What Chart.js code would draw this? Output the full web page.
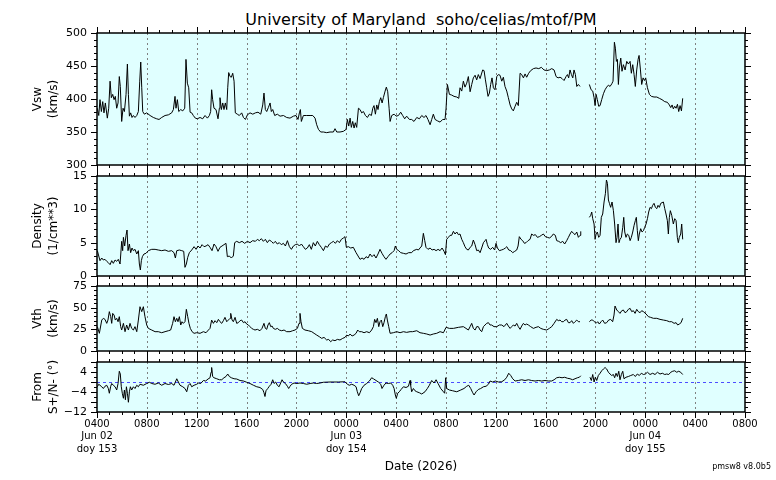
<!DOCTYPE html>
<html lang="en">
<head>
<meta charset="UTF-8">
<title>soho/celias/mtof/PM</title>
<script src="https://cdn.jsdelivr.net/npm/chart.js"></script>
<style>
    body { margin: 0; background: #fff; font-family: "DejaVu Sans", sans-serif; color: #000; }
    #wrap { position: relative; width: 776px; height: 480px; overflow: hidden; }
    #wrap canvas { position: absolute; left: 0; top: 0; }
    .title { position: absolute; left: 97px; width: 648px; top: 10px; line-height: 19px; text-align: center; font-size: 16px; white-space: pre; }
    .xlabel { position: absolute; left: 97px; width: 648px; top: 459px; line-height: 14px; text-align: center; font-size: 12px; }
    .version { position: absolute; right: 5px; top: 462px; line-height: 10px; font-size: 8px; }
</style>
</head>
<body>
<div id="wrap">
    <div class="title">University of Maryland  soho/celias/mtof/PM</div>
    <canvas id="vswChart" width="776" height="480"></canvas>
    <canvas id="denChart" width="776" height="480"></canvas>
    <canvas id="vthChart" width="776" height="480"></canvas>
    <canvas id="angChart" width="776" height="480"></canvas>
    <div class="xlabel">Date (2026)</div>
    <div class="version">pmsw8 v8.0b5</div>
</div>

<script>
    // time axis: hours since Jun 02 00:00
    const tickHours = [4, 8, 12, 16, 20, 24, 28, 32, 36, 40, 44, 48, 52, 56];
    const tickLabels = ['0400', '0800', '1200', '1600', '2000', '0000', '0400', '0800', '1200', '1600', '2000', '0000', '0400', '0800'];
    const dayRows = { 4: ['Jun 02', 'doy 153'], 24: ['Jun 03', 'doy 154'], 48: ['Jun 04', 'doy 155'] };

    // solar wind speed (km/s)
    const vswHours = [
        4.03,4.14,4.24,4.35,4.46,4.56,4.67,4.83,4.94,5.05,
        5.15,5.26,5.37,5.47,5.58,5.69,5.79,5.87,5.98,6.09,
        6.20,6.33,6.44,6.52,6.60,6.70,6.81,6.92,7.05,7.19,
        7.32,7.43,7.51,7.59,7.67,7.80,7.99,8.26,8.52,8.79,
        8.98,9.19,9.46,9.73,9.99,10.13,10.26,10.34,10.45,10.56,
        10.72,10.88,11.04,11.14,11.25,11.36,11.47,11.60,11.73,11.89,
        12.05,12.27,12.48,12.67,12.86,13.02,13.12,13.20,13.28,13.39,
        13.55,13.71,13.82,13.87,13.98,14.09,14.19,14.30,14.41,14.49,
        14.57,14.68,14.78,14.89,15.00,15.10,15.26,15.42,15.61,15.75,
        15.91,16.07,16.28,16.50,16.71,16.92,17.14,17.30,17.40,17.51,
        17.62,17.75,17.89,17.99,18.10,18.26,18.47,18.69,18.96,19.22,
        19.49,19.76,19.97,20.13,20.24,20.32,20.40,20.56,20.83,21.10,
        21.31,21.50,21.63,21.77,21.95,22.17,22.43,22.70,22.97,23.10,
        23.24,23.50,23.77,23.99,24.09,24.20,24.31,24.41,24.52,24.63,
        24.73,24.84,24.98,25.11,25.24,25.38,25.54,25.70,25.86,26.02,
        26.13,26.23,26.34,26.45,26.55,26.66,26.77,26.88,26.98,27.12,
        27.22,27.33,27.44,27.52,27.65,27.84,28.00,28.19,28.37,28.53,
        28.69,28.85,29.07,
        29.25,29.44,29.66,29.87,30.06,30.24,30.40,30.56,30.73,30.86,
        30.99,31.13,31.31,31.53,31.74,31.93,32.01,32.12,32.28,32.46,
        32.65,32.87,33.03,33.13,33.27,33.40,33.53,33.67,33.80,33.94,
        34.07,34.20,34.34,34.47,34.60,34.74,34.95,35.06,35.17,35.27,
        35.38,35.49,35.59,35.70,35.81,35.94,36.08,36.21,36.34,36.48,
        36.61,36.74,36.88,37.01,37.15,37.28,37.41,37.55,37.68,37.81,
        37.95,38.08,38.22,38.35,38.48,38.64,38.80,39.02,39.23,39.45,
        39.66,39.87,40.09,40.30,40.49,40.68,40.84,41.00,41.16,41.32,
        41.48,41.64,41.75,41.85,41.96,42.07,42.18,42.28,42.39,42.50,
        42.63,42.76,43.10,43.51,43.65,43.78,43.89,43.97,44.05,44.15,
        44.26,44.37,44.50,44.64,44.77,44.90,45.04,45.17,45.31,45.41,
        45.52,45.60,45.68,45.76,45.84,45.92,46.03,46.13,46.24,46.38,
        46.51,46.64,46.78,46.88,46.99,47.10,47.20,47.31,47.42,47.50,
        47.61,47.71,47.82,47.93,48.03,48.17,48.33,48.49,48.70,48.92,
        49.13,49.34,49.56,49.77,49.93,50.04,50.15,50.25,50.36,50.47,
        50.58,50.68,50.79,50.90,51.00
    ];
    const vswValues = [
        386,375,399,381,396,379,394,371,386,427,
        402,407,399,404,386,394,434,419,366,386,
        381,407,453,407,374,379,372,375,372,375,
        381,427,456,417,381,377,379,375,372,370,
        369,372,375,376,379,384,404,386,399,381,
        384,382,386,460,424,417,380,379,375,371,
        370,372,370,375,371,375,381,414,399,386,
        384,370,386,402,384,394,384,394,384,417,
        440,434,433,439,427,379,377,375,379,372,
        369,376,379,377,379,380,377,391,409,384,
        381,387,394,381,384,375,377,374,375,372,
        371,374,375,369,379,384,366,375,375,375,
        375,371,361,354,350,350,349,350,350,355,
        350,350,351,354,369,359,371,357,366,356,
        364,357,386,384,379,381,375,372,377,375,
        386,390,377,391,384,396,402,394,402,412,
        418,411,386,366,375,377,374,375,380,375,
        370,374,369,
        369,366,372,370,375,372,375,369,361,369,
        377,369,367,365,369,369,386,422,407,406,
        404,403,401,417,412,427,418,424,434,411,
        422,432,436,429,437,431,444,443,429,417,
        404,409,422,432,417,414,434,437,436,427,
        433,419,412,402,391,385,382,389,395,390,
        439,437,432,438,433,439,443,446,447,446,
        448,444,443,444,446,444,434,432,433,431,
        428,434,437,432,444,437,432,444,437,419,
        422,419,null,422,414,412,402,390,407,399,
        389,390,399,408,414,418,421,419,423,427,
        486,477,457,460,422,447,462,442,452,444,
        457,453,457,439,452,437,419,444,460,466,
        444,422,432,428,432,417,407,404,403,403,
        401,399,396,395,391,387,391,385,389,386,
        392,381,390,382,401
    ];

    // proton density (1/cm**3)
    const denHours = [
        4.03,4.14,4.24,4.38,4.51,4.64,4.78,4.91,5.05,5.18,
        5.31,5.45,5.58,5.71,5.85,5.98,6.06,6.12,6.22,6.33,
        6.41,6.49,6.60,6.70,6.81,6.92,7.05,7.19,7.32,7.40,
        7.48,7.56,7.64,7.77,7.93,8.12,8.39,8.66,8.92,9.19,
        9.46,9.73,9.99,10.18,10.29,10.40,10.61,10.80,10.96,11.06,
        11.17,11.28,11.41,11.60,11.79,11.95,12.11,12.27,12.43,12.59,
        12.75,12.91,13.07,13.23,13.39,13.55,13.71,13.87,14.03,14.19,
        14.35,14.46,14.62,14.78,14.94,15.05,15.21,15.42,15.64,15.85,
        16.07,16.28,16.49,16.71,16.87,17.03,17.19,17.35,17.51,17.67,
        17.83,17.99,18.15,18.31,18.47,18.63,18.79,18.96,19.12,19.28,
        19.44,19.60,19.76,19.92,20.08,20.24,20.40,20.56,20.72,20.88,
        21.04,21.20,21.36,21.52,21.68,21.84,22.00,22.17,22.33,22.49,
        22.65,22.81,22.97,23.13,23.29,23.45,23.61,23.77,23.90,24.01,
        24.17,24.36,24.57,24.79,24.95,25.11,25.27,25.43,25.59,25.75,
        25.91,26.07,26.23,26.39,26.55,26.71,26.87,27.03,27.19,27.35,
        27.52,27.68,27.84,27.94,28.05,28.21,28.37,28.59,28.80,29.01,
        29.25,29.39,29.52,29.66,29.79,29.92,30.06,30.19,30.30,30.40,
        30.56,30.73,30.89,31.05,31.21,31.37,31.53,31.69,31.85,31.96,
        32.06,32.20,32.33,32.46,32.60,32.73,32.87,33.00,33.13,33.27,
        33.40,33.53,33.67,33.80,33.94,34.07,34.20,34.34,34.47,34.60,
        34.74,34.87,35.01,35.14,35.22,35.33,35.43,35.59,35.75,35.91,
        36.02,36.13,36.29,36.45,36.61,36.77,36.88,37.04,37.20,37.36,
        37.52,37.68,37.79,37.89,38.03,38.16,38.30,38.43,38.59,38.75,
        38.88,39.02,39.18,39.34,39.50,39.66,39.82,39.98,40.14,40.30,
        40.46,40.62,40.78,40.89,41.05,41.21,41.37,41.53,41.69,41.83,
        41.96,42.09,42.23,42.36,42.50,42.63,42.76,42.82,43.10,43.51,
        43.62,43.70,43.78,43.89,43.97,44.05,44.15,44.26,44.37,44.47,
        44.58,44.69,44.80,44.88,44.96,45.04,45.12,45.22,45.33,45.44,
        45.54,45.65,45.73,45.81,45.89,45.97,46.08,46.19,46.27,46.35,
        46.45,46.56,46.67,46.78,46.88,46.99,47.10,47.20,47.28,47.36,
        47.44,47.52,47.63,47.74,47.85,47.95,48.06,48.17,48.27,48.38,
        48.49,48.59,48.70,48.81,48.92,49.02,49.13,49.24,49.34,49.45,
        49.56,49.66,49.77,49.85,49.93,50.01,50.12,50.25,50.36,50.47,
        50.57,50.65,50.73,50.84,50.92,51.00
    ];
    const denValues = [
        3.8,3.0,2.3,2.7,2.4,2.5,2.2,2.0,1.7,2.3,
        1.9,2.4,2.2,2.5,1.8,5.2,3.8,5.8,4.5,6.1,
        6.9,3.8,4.8,3.5,4.2,3.8,4.0,3.3,3.8,1.8,
        0.9,2.3,2.9,3.3,3.4,3.8,4.0,4.0,3.9,3.8,
        3.9,3.7,3.8,3.5,2.7,3.8,3.9,3.8,3.7,1.3,
        1.8,2.8,3.5,3.9,4.4,4.0,4.5,4.2,4.7,4.4,
        4.5,4.7,4.3,3.8,4.8,4.4,3.7,4.3,4.5,4.7,
        4.9,2.9,3.0,2.7,3.0,5.0,5.2,5.0,5.2,4.9,
        5.2,5.0,5.3,5.2,5.5,5.3,5.6,5.2,5.5,5.0,
        5.4,5.2,4.9,5.2,4.8,5.0,4.7,4.9,4.5,5.3,
        4.4,4.0,4.5,4.7,4.8,4.5,4.8,4.4,4.0,4.2,
        4.7,4.0,5.0,4.5,5.2,4.7,4.3,3.8,4.5,4.3,
        4.8,5.0,5.2,4.9,5.3,5.0,5.5,5.7,5.9,4.3,
        4.4,4.2,4.3,3.5,3.0,2.5,2.7,2.5,2.9,2.7,
        3.3,2.9,3.2,2.7,3.3,4.0,3.4,2.9,2.5,2.9,
        3.3,3.5,3.8,4.5,4.0,3.8,3.5,3.4,3.3,3.5,
        3.5,3.8,3.9,4.0,3.9,4.2,4.5,6.4,5.3,4.3,
        4.0,4.2,3.9,4.0,3.8,4.0,3.8,4.2,3.7,3.2,
        5.5,5.8,6.1,6.1,6.7,6.3,6.6,6.2,6.3,5.5,
        5.0,4.4,4.0,3.9,4.3,4.5,5.4,4.7,3.8,3.9,
        3.5,4.2,5.0,5.3,5.5,4.7,4.2,4.0,4.3,3.9,
        4.9,4.2,3.8,3.9,4.0,4.2,4.4,3.9,3.8,3.5,
        3.7,3.9,4.5,5.9,5.5,5.3,4.9,5.0,5.3,5.5,
        6.3,6.1,6.2,5.8,5.9,6.1,6.3,5.9,5.8,5.7,
        5.9,6.3,6.1,5.3,5.2,5.0,5.2,4.8,5.3,5.8,
        6.3,6.7,6.4,6.2,6.6,5.8,6.1,6.7,null,8.8,
        9.1,9.6,8.6,7.8,5.5,6.3,6.6,5.8,6.1,8.8,
        9.3,11.1,12.4,14.4,13.9,11.4,10.9,10.3,11.1,9.8,
        7.8,5.0,5.8,7.8,5.0,5.5,5.8,7.3,8.8,6.6,
        5.8,6.3,6.1,5.3,5.8,6.6,7.6,8.3,8.8,6.8,
        5.3,6.3,7.1,6.6,6.8,7.3,7.8,8.6,9.6,10.3,
        10.1,10.6,10.9,10.3,10.1,10.6,10.3,10.9,11.0,11.1,
        10.1,9.3,8.3,6.3,8.8,9.8,9.1,7.8,8.6,8.3,
        5.8,5.0,5.8,6.3,7.8,5.5
    ];

    // thermal speed (km/s)
    const vthHours = [
        4.03,4.19,4.38,4.51,4.64,4.78,4.88,4.99,5.10,5.18,
        5.26,5.37,5.47,5.58,5.69,5.79,5.90,5.98,6.12,6.25,
        6.38,6.52,6.65,6.78,6.92,7.05,7.19,7.32,7.45,7.59,
        7.72,7.85,7.99,8.12,8.39,8.66,8.92,9.19,9.46,9.73,
        9.91,10.07,10.18,10.29,10.40,10.50,10.61,10.72,10.82,10.93,
        11.06,11.17,11.28,11.38,11.49,11.63,11.79,12.00,12.27,12.54,
        12.75,12.94,13.07,13.20,13.34,13.47,13.61,13.74,13.87,14.01,
        14.14,14.27,14.41,14.54,14.68,14.73,14.84,14.94,15.08,15.21,
        15.34,15.48,15.61,15.75,15.88,16.01,16.15,16.28,16.41,16.55,
        16.68,16.87,17.08,17.24,17.40,17.51,17.62,17.72,17.83,17.94,
        18.05,18.15,18.31,18.47,18.63,18.82,19.01,19.22,19.49,19.70,
        19.89,20.08,20.21,20.29,20.37,20.48,20.69,20.96,21.23,21.42,
        21.63,21.84,22.03,22.22,22.43,22.59,22.75,22.91,23.10,23.29,
        23.50,23.72,23.90,24.04,24.17,24.31,24.47,24.63,24.79,24.92,
        25.05,25.24,25.43,25.64,25.86,26.04,26.18,26.28,26.39,26.50,
        26.61,26.71,26.82,26.93,27.03,27.14,27.22,27.30,27.41,27.52,
        27.78,28.05,28.32,28.59,28.85,29.12,
        29.33,29.66,29.92,30.19,30.46,30.73,30.99,31.26,31.53,31.80,
        32.01,32.28,32.60,33.00,33.40,33.61,33.80,33.94,34.07,34.20,
        34.34,34.47,34.60,34.74,34.87,35.01,35.14,35.27,35.41,35.54,
        35.67,35.86,36.08,36.29,36.48,36.66,36.88,37.01,37.15,37.28,
        37.41,37.55,37.68,37.81,37.95,38.08,38.22,38.35,38.48,38.62,
        38.80,39.02,39.23,39.42,39.61,39.82,40.09,40.30,40.49,40.68,
        40.89,41.02,41.16,41.29,41.43,41.56,41.69,41.83,41.96,42.09,
        42.23,42.36,42.50,42.63,42.76,43.10,43.51,43.65,43.78,43.91,
        44.05,44.18,44.31,44.45,44.58,44.74,44.90,45.06,45.22,45.38,
        45.49,45.57,45.71,45.84,45.97,46.11,46.24,46.37,46.51,46.64,
        46.78,46.91,47.04,47.18,47.31,47.44,47.58,47.71,47.85,48.06,
        48.25,48.43,48.65,48.92,49.18,49.45,49.72,49.93,50.12,50.31,
        50.47,50.60,50.73,50.87,51.00
    ];
    const vthValues = [
        28.1,20.4,35.7,37.7,36.5,31.9,35.7,45.4,39.6,31.9,
        43.4,41.5,35.7,37.7,33.8,39.6,28.1,24.2,31.9,22.3,
        30.0,24.2,31.9,26.1,24.2,28.1,22.3,35.7,51.1,45.4,
        51.1,39.6,30.0,26.1,24.2,22.3,22.3,21.1,22.3,23.4,
        24.2,31.9,39.6,33.8,37.7,33.8,39.6,30.0,33.8,31.9,
        33.8,48.1,39.6,31.9,26.1,22.3,20.4,21.1,20.4,22.3,
        21.1,24.2,26.1,35.7,31.9,35.0,32.7,36.5,33.8,31.9,
        35.0,38.8,33.8,35.7,37.7,43.4,35.7,33.8,38.8,31.9,
        32.7,35.0,35.7,32.7,33.8,31.1,30.0,28.1,26.1,25.0,
        24.2,25.0,23.4,26.1,31.9,26.1,25.0,30.0,32.7,28.1,
        28.8,26.1,25.0,26.1,24.2,23.4,24.2,22.3,22.3,23.4,
        24.2,26.1,31.9,43.4,33.8,26.1,24.2,23.4,22.3,20.4,
        18.4,16.5,14.6,15.7,12.7,13.4,10.7,12.7,11.9,13.4,
        12.7,14.6,15.7,18.4,17.3,19.6,17.3,18.4,20.4,24.2,
        22.3,22.3,21.1,22.3,21.1,24.2,28.1,36.5,32.7,37.7,
        28.1,33.8,35.7,28.1,32.7,39.6,42.7,35.7,28.1,20.4,
        21.1,22.3,21.1,22.3,21.5,22.3,
        22.3,23.4,21.1,20.4,19.6,18.4,19.6,20.4,22.3,21.1,
        27.3,26.1,26.1,27.3,28.1,26.1,24.2,28.1,31.9,26.1,
        24.2,28.1,28.1,24.2,22.3,28.1,30.0,31.9,32.7,30.0,
        30.0,28.1,28.1,30.0,30.0,28.1,31.9,28.8,26.1,28.1,
        30.0,28.8,31.9,28.1,25.0,28.8,31.9,30.0,31.1,30.0,
        28.1,26.1,27.3,28.1,26.1,25.0,24.2,26.1,28.1,31.9,
        36.5,35.0,35.7,33.8,33.8,35.7,36.5,32.7,32.7,35.0,
        31.9,33.8,35.7,33.8,33.8,null,33.8,35.7,35.7,33.8,
        31.9,33.8,31.1,33.8,35.7,31.9,32.7,35.7,36.5,33.8,
        41.5,51.9,47.3,45.4,43.4,46.5,47.3,44.2,45.4,48.1,
        49.2,45.4,46.5,43.4,48.1,45.4,44.2,46.5,45.4,42.7,
        39.6,38.8,37.7,37.7,36.5,35.7,35.0,33.8,33.8,31.9,
        32.7,30.0,31.1,32.7,37.7
    ];

    // flow direction, S+/N- (deg)
    const angHours = [
        4.03,4.14,4.24,4.38,4.51,4.64,4.78,4.91,4.99,5.10,
        5.18,5.31,5.45,5.58,5.69,5.79,5.87,5.95,6.03,6.12,
        6.20,6.28,6.36,6.44,6.52,6.60,6.68,6.78,6.92,7.05,
        7.19,7.32,7.45,7.72,7.99,8.20,8.39,8.66,8.92,9.19,
        9.46,9.73,9.99,10.18,10.40,10.53,10.66,10.88,11.06,11.20,
        11.33,11.47,11.60,11.79,12.00,12.16,12.32,12.54,12.72,12.91,
        13.07,13.15,13.20,13.28,13.39,13.61,13.82,14.01,14.19,14.35,
        14.49,14.62,14.78,15.00,15.21,15.48,15.75,16.01,16.28,16.55,
        16.82,17.08,17.30,17.40,17.48,17.56,17.70,17.83,17.97,18.10,
        18.21,18.34,18.47,18.61,18.74,18.85,18.96,19.12,19.28,19.38,
        19.49,19.62,19.81,20.03,20.29,20.56,20.83,21.10,21.36,21.63,
        21.90,22.17,22.70,23.37,23.90,24.09,24.25,24.44,24.63,24.79,
        24.89,25.00,25.11,25.24,25.43,25.64,25.86,26.04,26.18,26.39,
        26.58,26.77,26.87,27.03,27.19,27.38,27.57,27.73,27.84,27.94,
        28.02,28.13,28.26,28.40,28.59,28.80,28.99,29.12,
        29.17,29.25,29.39,29.52,29.66,29.87,30.06,30.32,30.51,30.67,
        30.86,31.05,31.21,31.37,31.58,31.80,31.90,31.98,32.06,32.28,
        32.54,32.87,33.19,33.45,33.67,33.83,33.99,34.15,34.26,34.42,
        34.60,34.79,35.01,35.22,35.41,35.54,35.75,35.97,36.21,36.48,
        36.72,36.88,37.04,37.20,37.36,37.55,37.81,38.08,38.35,38.62,
        38.88,39.15,39.42,39.69,39.95,40.22,40.49,40.68,40.89,41.10,
        41.32,41.53,41.75,41.96,42.17,42.36,42.55,42.71,42.82,43.10,
        43.56,43.67,43.78,43.89,43.99,44.10,44.23,44.37,44.50,44.64,
        44.77,44.90,45.04,45.17,45.30,45.44,45.54,45.65,45.76,45.87,
        45.97,46.08,46.19,46.29,46.45,46.64,46.83,47.04,47.20,47.36,
        47.52,47.68,47.85,48.01,48.17,48.38,48.59,48.78,48.97,49.18,
        49.37,49.56,49.72,49.88,50.04,50.20,50.36,50.52,50.68,50.84,
        51.00
    ];
    const angValues = [
        -1.9,-0.9,-1.3,-1.9,-2.6,-1.7,-1.3,-2.6,-4.5,-1.7,
        -0.6,-1.3,-1.9,-3.2,-0.6,4.3,3.2,-1.9,-4.5,-6.5,
        -3.2,-7.1,-1.9,-4.5,-8.1,-3.9,-1.9,-3.2,-1.9,-2.6,
        -1.3,-1.9,-0.9,-1.3,-0.6,-0.1,-0.6,-0.9,-0.4,-1.3,
        -0.6,-1.0,-0.6,-1.3,1.3,0.0,-1.3,-1.9,-2.6,-3.9,
        -1.3,-0.6,-1.9,-1.3,-0.9,-0.4,-0.6,0.6,0.4,1.2,
        1.7,3.9,5.8,2.2,1.7,1.3,0.9,0.9,1.7,2.2,
        3.2,2.2,1.7,1.3,1.2,0.6,0.4,-0.1,-0.6,-1.3,
        -1.9,-2.2,-3.0,-4.3,-5.8,-3.5,-2.6,-1.7,-0.9,0.9,
        -0.6,0.0,-1.3,-1.9,-0.4,0.9,0.0,-0.6,-1.7,-2.6,
        -1.7,-0.9,-0.4,-0.6,-0.4,-0.6,-0.9,-0.6,-0.4,-0.6,
        -0.4,-0.1,0.0,0.0,0.1,-0.9,-1.3,-0.9,-1.3,-1.9,
        -3.9,-5.5,-4.3,-2.6,-1.3,-0.6,0.4,1.7,1.3,0.6,
        0.0,-0.9,-2.6,-1.3,-0.4,-0.6,-0.4,-1.3,-2.6,-5.2,
        -6.5,-4.5,-3.9,-3.0,-1.9,-2.2,-1.7,0.6,
        -1.3,-3.9,-2.6,-3.5,-3.9,-4.3,-4.8,-3.9,-2.6,-1.3,
        0.6,-0.4,0.9,-0.6,-2.6,-3.9,-4.5,1.7,-2.6,-3.2,
        -3.5,-3.9,-3.2,-2.6,-1.7,-1.3,-2.6,-4.3,-5.2,-3.9,
        -3.0,-2.6,-1.9,-1.7,-0.9,0.4,0.0,0.4,0.0,0.1,
        0.9,1.9,3.5,2.6,1.3,0.4,0.6,0.9,0.6,0.9,
        0.6,0.4,0.6,0.4,0.6,0.4,0.4,0.9,1.7,1.9,
        1.7,1.9,1.5,1.3,0.9,1.3,1.7,1.9,2.5,null,
        1.9,0.6,3.0,0.0,1.9,0.6,2.6,3.5,4.5,5.2,
        5.8,5.2,3.9,3.2,2.6,3.0,1.7,3.5,2.2,4.3,
        0.9,3.0,4.3,1.3,1.9,2.2,2.6,3.0,2.2,3.2,
        2.6,3.5,3.0,3.2,3.9,3.0,3.5,3.0,3.9,3.2,
        3.5,3.0,3.2,3.0,3.9,4.3,4.5,3.9,4.3,3.9,
        3.0
    ];

    const PLOT_LEFT = 97;
    const PLOT_RIGHT = 745;
    const FONT = '"DejaVu Sans", sans-serif';

    function points(hours, values) {
        return hours.map((h, i) => ({ x: h, y: values[i] }));
    }

    // background, dotted time grid, zero line, frame and tick marks
    const panelFrame = {
        id: 'panelFrame',
        beforeDraw(chart) {
            const { ctx, chartArea: a } = chart;
            ctx.save();
            ctx.fillStyle = '#e0ffff';
            ctx.fillRect(a.left, a.top, a.right - a.left, a.bottom - a.top);
            ctx.restore();
        },
        beforeDatasetsDraw(chart, args, opts) {
            const { ctx, chartArea: a, scales: { x, y } } = chart;
            ctx.save();
            ctx.strokeStyle = '#808080';
            ctx.lineWidth = 1;
            ctx.setLineDash([2, 3]);
            tickHours.slice(1, -1).forEach(h => {
                const px = Math.round(x.getPixelForValue(h)) + 0.5;
                ctx.beginPath();
                ctx.moveTo(px, a.top);
                ctx.lineTo(px, a.bottom);
                ctx.stroke();
            });
            if (opts.zeroLine) {
                const py = Math.round(y.getPixelForValue(0)) + 0.5;
                ctx.strokeStyle = '#4d4dff';
                ctx.setLineDash([3, 3]);
                ctx.beginPath();
                ctx.moveTo(a.left, py);
                ctx.lineTo(a.right, py);
                ctx.stroke();
            }
            ctx.restore();
        },
        afterDatasetsDraw(chart, args, opts) {
            const { ctx, chartArea: a, scales: { x, y } } = chart;
            ctx.save();
            ctx.strokeStyle = '#000';
            ctx.lineWidth = 1;
            ctx.beginPath();
            for (let h = x.min; h <= x.max; h++) {
                const px = Math.round(x.getPixelForValue(h)) + 0.5;
                const len = h % 4 === 0 ? 6 : 3;
                ctx.moveTo(px, a.bottom); ctx.lineTo(px, a.bottom + len);
                ctx.moveTo(px, a.top); ctx.lineTo(px, a.top - len);
            }
            for (let v = y.min; v <= y.max + 1e-6; v += opts.minor) {
                const py = Math.round(y.getPixelForValue(v)) + 0.5;
                const len = Math.abs((v - y.min) % opts.major) < 1e-6 ? 6 : 3;
                ctx.moveTo(a.left, py); ctx.lineTo(a.left - len, py);
                ctx.moveTo(a.right, py); ctx.lineTo(a.right + len, py);
            }
            ctx.stroke();
            ctx.lineWidth = 1.5;
            ctx.strokeRect(a.left, a.top, a.right - a.left, a.bottom - a.top);
            ctx.restore();
        }
    };

    function makePanel(id, p) {
        return new Chart(document.getElementById(id), {
            type: 'line',
            data: {
                datasets: [{
                    data: points(p.hours, p.values),
                    borderColor: '#000',
                    borderWidth: 1,
                    pointRadius: 0,
                    tension: 0,
                    spanGaps: false
                }]
            },
            options: {
                responsive: false,
                animation: false,
                events: [],
                layout: { padding: { left: 0, right: 776 - PLOT_RIGHT, top: p.top, bottom: 0 } },
                plugins: {
                    legend: { display: false },
                    tooltip: { enabled: false },
                    panelFrame: { minor: p.minor, major: p.step, zeroLine: !!p.zeroLine }
                },
                scales: {
                    x: {
                        type: 'linear',
                        min: 4,
                        max: 56,
                        afterFit: s => { s.height = 480 - p.bottom; },
                        grid: { display: false, drawTicks: false },
                        border: { display: false },
                        ticks: {
                            display: !!p.showX,
                            stepSize: 4,
                            autoSkip: false,
                            maxRotation: 0,
                            padding: 6,
                            color: '#000',
                            font: { family: FONT, size: 10, lineHeight: 1.25 },
                            callback: v => {
                                const lab = tickLabels[tickHours.indexOf(v)];
                                return dayRows[v] ? [lab, ...dayRows[v]] : lab;
                            }
                        }
                    },
                    y: {
                        min: p.min,
                        max: p.max,
                        afterFit: s => { s.width = PLOT_LEFT; },
                        grid: { display: false, drawTicks: false },
                        border: { display: false },
                        ticks: {
                            stepSize: p.step,
                            padding: 10,
                            color: '#000',
                            font: { family: FONT, size: 11 },
                            callback: v => String(v).replace('-', '\u2212')
                        },
                        title: {
                            display: true,
                            text: p.title,
                            color: '#000',
                            padding: { top: 30, bottom: 0 },
                            font: { family: FONT, size: 12, lineHeight: 1.35 }
                        }
                    }
                }
            },
            plugins: [panelFrame]
        });
    }

    makePanel('vswChart', { hours: vswHours, values: vswValues, top: 33, bottom: 165,
        min: 300, max: 500, step: 50, minor: 10, title: ['Vsw', '(km/s)'] });
    makePanel('denChart', { hours: denHours, values: denValues, top: 176, bottom: 276,
        min: 0, max: 15, step: 5, minor: 1, title: ['Density', '(1/cm**3)'] });
    makePanel('vthChart', { hours: vthHours, values: vthValues, top: 286, bottom: 351,
        min: 0, max: 75, step: 25, minor: 5, title: ['Vth', '(km/s)'] });
    makePanel('angChart', { hours: angHours, values: angValues, top: 362, bottom: 412,
        min: -12, max: 8, step: 4, minor: 2, title: ['From', 'S+/N- (\u00b0)'], zeroLine: true, showX: true });
</script>
</body>
</html>
